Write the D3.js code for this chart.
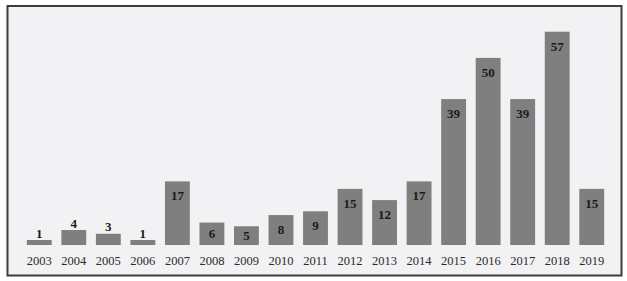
<!DOCTYPE html>
<html lang="en">
<head>
  <meta charset="UTF-8">
  <title>Yearly counts</title>
  <script src="https://d3js.org/d3.v7.min.js"></script>
  <style>
    body { margin: 0; background: #fff; }
    svg { display: block; }
    .year { font-family: "Liberation Serif", serif; font-size: 12.5px; fill: #2a2a2a; }
    .val { font-family: "Liberation Serif", serif; font-size: 13px; font-weight: bold; fill: #1a1a1a; }
  </style>
</head>
<body>
  <div id="chart"></div>
  <script>
    const years = ["2003","2004","2005","2006","2007","2008","2009","2010","2011","2012","2013","2014","2015","2016","2017","2018","2019"];
    const counts = [1, 4, 3, 1, 17, 6, 5, 8, 9, 15, 12, 17, 39, 50, 39, 57, 15];

    const width = 627, height = 281;
    const baseline = 245;

    const svg = d3.select("#chart").append("svg")
      .attr("width", width)
      .attr("height", height);

    // frame
    svg.append("rect")
      .attr("x", 7.5).attr("y", 6)
      .attr("width", 614).attr("height", 269.5)
      .attr("fill", "#f2f2f4")
      .attr("stroke", "#3c3c3c")
      .attr("stroke-width", 2);

    const x = d3.scaleBand()
      .domain(years)
      .range([22, 609])
      .paddingInner(0.28)
      .paddingOuter(0.14);

    const y = d3.scaleLinear()
      .domain([0, 57])
      .range([baseline, 31.7]);

    const data = years.map((yr, i) => ({ year: yr, value: counts[i] }));

    svg.append("g").selectAll("rect")
      .data(data)
      .join("rect")
        .attr("x", d => x(d.year))
        .attr("width", x.bandwidth())
        .attr("y", d => Math.min(y(d.value), baseline - 5))
        .attr("height", d => baseline - Math.min(y(d.value), baseline - 5))
        .attr("fill", "#7f7f7f");

    // value labels: above tiny bars, inside the others
    svg.append("g").selectAll("text")
      .data(data)
      .join("text")
        .attr("class", "val")
        .attr("text-anchor", "middle")
        .attr("dominant-baseline", "central")
        .attr("x", d => x(d.year) + x.bandwidth() / 2)
        .attr("y", d => {
          const top = Math.min(y(d.value), baseline - 5);
          if (d.value < 5) return top - 7;
          return Math.min(top + 14.5, (top + baseline) / 2);
        })
        .text(d => d.value);

    svg.append("g").selectAll("text")
      .data(years)
      .join("text")
        .attr("class", "year")
        .attr("text-anchor", "middle")
        .attr("dominant-baseline", "central")
        .attr("x", d => x(d) + x.bandwidth() / 2)
        .attr("y", 261)
        .text(d => d);
  </script>
</body>
</html>
